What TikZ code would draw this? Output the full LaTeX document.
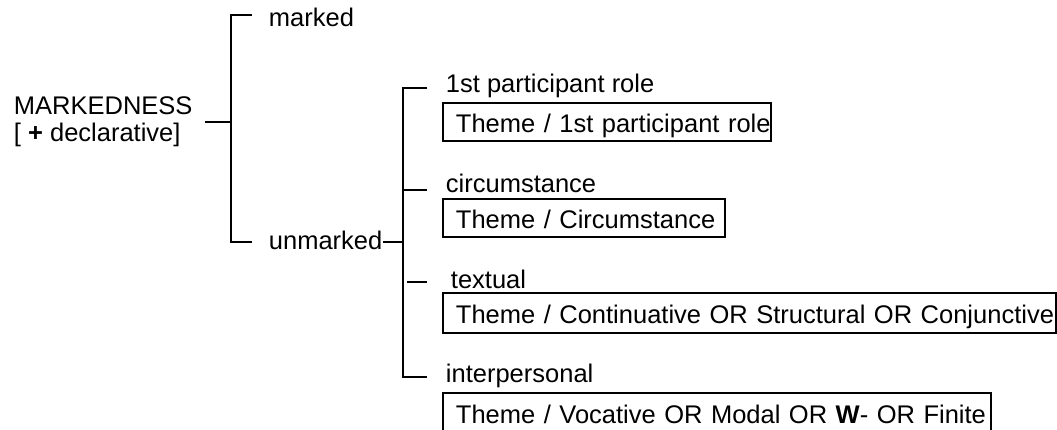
\documentclass[tikz,border=0pt]{standalone}
\usepackage{fontspec}
\setmainfont{Liberation Sans}
\begin{document}
\begin{tikzpicture}[x=1pt,y=-1pt,
  line width=1.9pt, line join=miter,
  lbl/.style={anchor=base west, inner sep=0pt, font=\fontsize{25.5}{27}\selectfont},
  box/.style={draw, anchor=north west, inner xsep=0pt, inner ysep=0pt, align=left,
    text height=30pt, text depth=8pt, font=\fontsize{25.5}{27}\selectfont}]
\useasboundingbox (0,0) rectangle (1057,430);
% root
\node[lbl] (root) at (13,115) {MARKEDNESS};
\node[lbl] (rootsub) at (13,142) {[ \textbf{+} declarative]};
\node[lbl] (marked) at (268,27) {marked};
\node[lbl] (unmarked) at (268,250) {unmarked};
% second level labels
\node[lbl] (l1) at (445,93) {1st participant role};
\node[lbl] (l2) at (445,193) {circumstance};
\node[lbl] (l3) at (450,288) {textual};
\node[lbl] (l4) at (445,382) {interpersonal};
% boxes
\node[box, text width=328pt] (b1) at (442,102) {\hspace*{13pt}Theme / 1st participant role};
\node[box, text width=282pt] (b2) at (442,198) {\hspace*{13pt}Theme / Circumstance};
\node[box, text width=613pt, text height=31pt, text depth=9pt] (b3) at (442,292) {\hspace*{13pt}Theme / Continuative OR Structural OR Conjunctive};
\node[box, text width=548pt, text height=31pt, text depth=12pt] (b4) at (442,392) {\hspace*{13pt}Theme / Vocative OR Modal OR \textbf{W}- OR Finite};
% first bracket
\coordinate (r0) at (205,122);
\coordinate (r1) at (231,122);
\coordinate (mk) at (252,15);
\coordinate (um) at (252,242);
\draw (r0) -- (r1);
\draw (mk) -| (um -| r1) -- (um);
% second bracket
\coordinate (u0) at (383,242);
\coordinate (u1) at (403,242);
\coordinate (k1) at (427,88);
\coordinate (k2) at (427,190);
\coordinate (k3a) at (407,282);
\coordinate (k3) at (427,282);
\coordinate (k4) at (427,377);
\draw (u0) -- (u1);
\draw (k1) -| (k4 -| u1) -- (k4);
\draw (k2 -| u1) -- (k2);
\draw (k3a) -- (k3);
\end{tikzpicture}
\end{document}
